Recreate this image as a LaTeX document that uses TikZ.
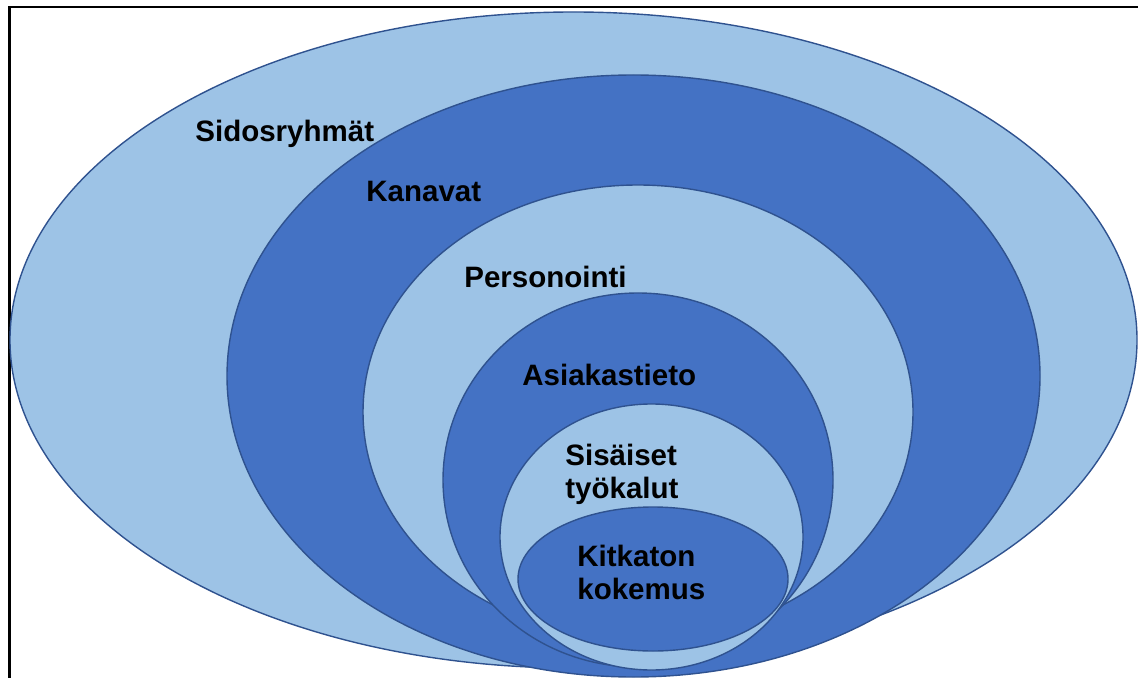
\documentclass[tikz,border=0pt]{standalone}
\usepackage{fontspec}
\setmainfont{Liberation Sans}
\definecolor{ringlight}{HTML}{9DC3E6}
\definecolor{ringdark}{HTML}{4472C4}
\definecolor{ringedge}{HTML}{2F528F}
\begin{document}
\begin{tikzpicture}[x=0.5pt,y=-0.5pt]
\tikzstyle{every node}+=[inner sep=0pt]
\tikzstyle{ring}=[draw=ringedge, line width=0.7pt]
\tikzstyle{lbl}=[anchor=base west, align=left, font=\bfseries\fontsize{14.75}{16.25}\selectfont]
\useasboundingbox (0,0) rectangle (1138,678);
\draw [black, line width=1.25pt] (9.5,678) -- (9.5,7) -- (1138,7);
\draw [ring, fill=ringlight] (573.5,340) ellipse (563.5 and 328);
\draw [ring, fill=ringdark] (633.5,376) ellipse (406.5 and 301);
\draw [ring, fill=ringlight] (638,412) ellipse (275 and 227);
\draw [ring, fill=ringdark] (638,480) ellipse (195 and 187);
\draw [ring, fill=ringlight] (651.5,537) ellipse (151.5 and 133);
\draw [ring, fill=ringdark] (653,579) ellipse (135 and 72);
\node [lbl] (sidos) at (195,142) {Sidosryhmät};
\node [lbl] (kanavat) at (366,202) {Kanavat};
\node [lbl] (personointi) at (464,287) {Personointi};
\node [lbl] (asiakastieto) at (522,385) {Asiakastieto};
\node [lbl] (tyokalut) at (565,498) {Sisäiset\\työkalut};
\node [lbl] (kokemus) at (577,599) {Kitkaton\\kokemus};
\end{tikzpicture}
\end{document}
